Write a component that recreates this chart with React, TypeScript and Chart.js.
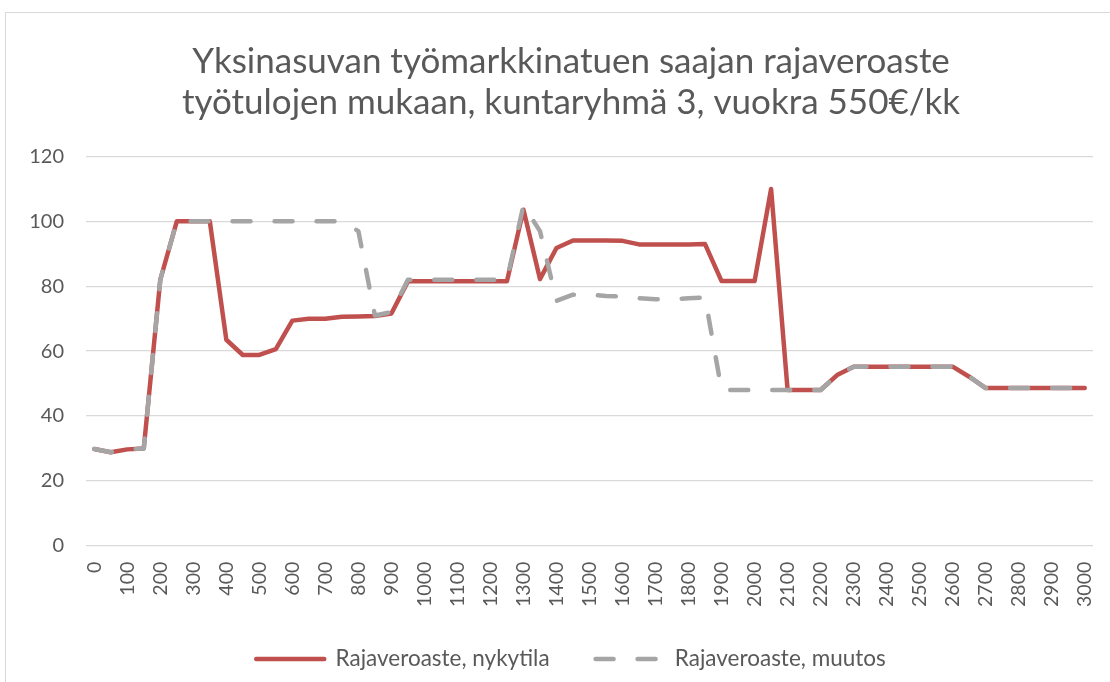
import React, { useEffect, useRef } from "react";
import { Chart, registerables } from "chart.js";

Chart.register(...registerables);

const incomes: string[] = [
  "0", "50", "100", "150", "200", "250", "300", "350", "400", "450",
  "500", "550", "600", "650", "700", "750", "800", "850", "900", "950",
  "1000", "1050", "1100", "1150", "1200", "1250", "1300", "1350", "1400", "1450",
  "1500", "1550", "1600", "1650", "1700", "1750", "1800", "1850", "1900", "1950",
  "2000", "2050", "2100", "2150", "2200", "2250", "2300", "2350", "2400", "2450",
  "2500", "2550", "2600", "2650", "2700", "2750", "2800", "2850", "2900", "2950",
  "3000",
];

const nykytila: number[] = [
  29.8, 28.8, 29.7, 30, 82, 100, 100, 100, 63.5, 58.8,
  58.8, 60.6, 69.4, 70, 70, 70.6, 70.7, 70.8, 71.6, 81.5,
  81.5, 81.5, 81.5, 81.5, 81.5, 81.5, 103.6, 82.2, 91.8, 94.1,
  94.1, 94.1, 94.0, 92.9, 92.9, 92.9, 92.9, 93.0, 81.6, 81.6,
  81.6, 110, 48, 48, 48, 52.6, 55.2, 55.2, 55.2, 55.2,
  55.2, 55.2, 55.2, 52.1, 48.6, 48.6, 48.6, 48.6, 48.6, 48.6,
  48.6,
];

const muutos: number[] = [
  29.8, 28.8, 29.7, 30, 82, 100, 100, 100, 100, 100,
  100, 100, 100, 100, 100, 100, 97, 71, 72, 82,
  82, 82, 82, 82, 82, 82, 105, 97, 75.5, 77.4,
  77.4, 77.0, 76.8, 76.3, 76.0, 76.0, 76.3, 76.5, 48, 48,
  48, 48, 48, 48, 48, 52.6, 55.2, 55.2, 55.2, 55.2,
  55.2, 55.2, 55.2, 52.1, 48.6, 48.6, 48.6, 48.6, 48.6, 48.6,
  48.6,
];

const yTicks: number[] = [0, 20, 40, 60, 80, 100, 120];

const titleLines: string[] = [
  "Yksinasuvan työmarkkinatuen saajan rajaveroaste",
  "työtulojen mukaan, kuntaryhmä 3, vuokra 550€/kk",
];
const seriesNames: string[] = ["Rajaveroaste, nykytila", "Rajaveroaste, muutos"];

const FONT = "Lato, 'Open Sans', sans-serif";
const TEXT = "#595959";
const DASH = [18, 24];

export default function App() {
  const ref = useRef<HTMLCanvasElement | null>(null);

  useEffect(() => {
    if (!ref.current) return;
    const noClip = (scale: any) => {
      scale._computeLabelArea = () => undefined;
    };
    const chart = new Chart(ref.current, {
      type: "line",
      data: {
        labels: incomes,
        datasets: [
          {
            label: seriesNames[0],
            data: nykytila,
            borderColor: "#C0504D",
            backgroundColor: "#C0504D",
            borderWidth: 4.5,
            pointRadius: 0,
            pointHoverRadius: 0,
            tension: 0,
            borderJoinStyle: "round",
            borderCapStyle: "round",
            order: 1,
          },
          {
            label: seriesNames[1],
            data: muutos,
            borderColor: "#A5A5A5",
            backgroundColor: "#A5A5A5",
            borderWidth: 4.5,
            borderDash: DASH,
            pointRadius: 0,
            pointHoverRadius: 0,
            tension: 0,
            borderJoinStyle: "round",
            borderCapStyle: "round",
            order: 0,
          },
        ],
      },
      options: {
        responsive: false,
        animation: false,
        devicePixelRatio: 1,
        layout: { padding: { left: 49, right: 17, top: 0, bottom: 1.75 } },
        plugins: {
          tooltip: { enabled: false },
          title: {
            display: true,
            text: titleLines,
            color: TEXT,
            font: { family: FONT, size: 35, weight: "normal", lineHeight: 41 / 35 },
            padding: { top: 41.5, bottom: 33 },
          },
          legend: {
            position: "bottom",
            labels: {
              usePointStyle: true,
              pointStyle: "line",
              pointStyleWidth: 68,
              boxHeight: 20,
              color: TEXT,
              padding: 46,
              font: { family: FONT, size: 22.5 },
              sort: (a: any, b: any) => a.datasetIndex - b.datasetIndex,
              generateLabels: (c: any) => {
                const items = Chart.defaults.plugins.legend.labels.generateLabels(c);
                return items.map((it: any) => {
                  const ds = c.data.datasets[it.datasetIndex];
                  return {
                    ...it,
                    lineDash: ds.borderDash || [],
                    lineCap: "round",
                    lineWidth: 4.5,
                    strokeStyle: ds.borderColor,
                    fillStyle: ds.borderColor,
                  };
                });
              },
            },
          },
        },
        scales: {
          x: {
            type: "category",
            offset: true,
            grid: { display: false, drawTicks: false },
            border: { display: false },
            afterFit: (scale: any) => {
              scale.height = 56.05;
              scale.paddingLeft = 0;
              scale.paddingRight = 0;
              noClip(scale);
            },
            ticks: {
              autoSkip: false,
              maxRotation: 90,
              minRotation: 90,
              padding: 16,
              color: TEXT,
              font: { family: FONT, size: 19.5 },
              callback: (_v: any, i: number) => (i % 2 === 0 ? incomes[i] : ""),
            },
          },
          y: {
            min: yTicks[0],
            max: yTicks[yTicks.length - 1],
            afterBuildTicks: (scale: any) => {
              scale.ticks = yTicks.map((v) => ({ value: v }));
            },
            afterFit: (scale: any) => {
              scale.width = 37;
              noClip(scale);
            },
            grid: { color: "#D9D9D9", lineWidth: 1.3, drawTicks: false },
            border: { display: false },
            ticks: {
              padding: 22,
              color: TEXT,
              font: { family: FONT, size: 20 },
            },
          },
        },
      },
    });
    return () => chart.destroy();
  }, []);

  return (
    <div style={{ position: "fixed", left: 0, top: 0, width: 1110, height: 682, background: "#fff", overflow: "hidden" }}>
      <div
        style={{
          position: "absolute",
          left: 5,
          top: 12,
          width: 1200,
          height: 800,
          borderLeft: "1.3px solid #D9D9D9",
          borderTop: "1.3px solid #D9D9D9",
        }}
      />
      <canvas ref={ref} width={1110} height={682} style={{ position: "absolute", left: 0, top: 0 }} />
    </div>
  );
}
